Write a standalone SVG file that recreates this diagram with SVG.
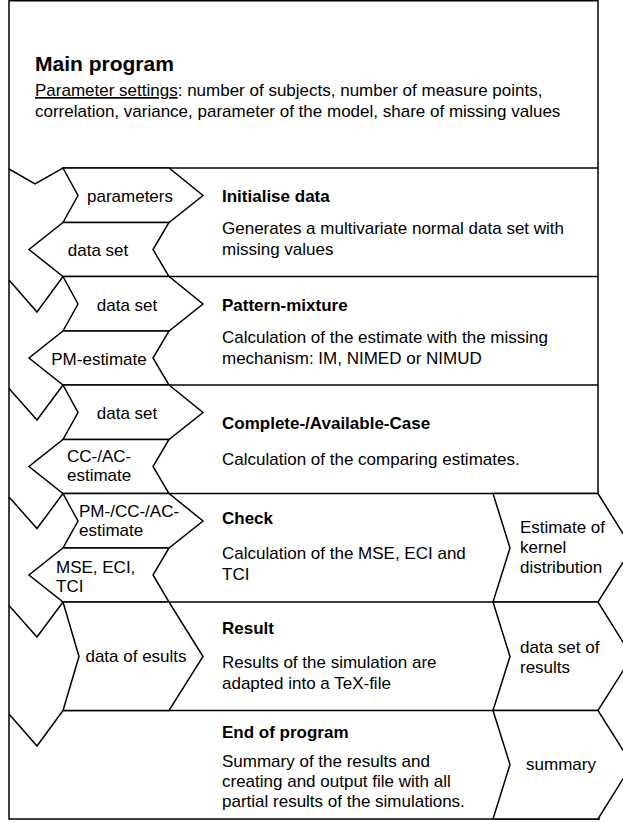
<svg xmlns="http://www.w3.org/2000/svg" width="623" height="822" viewBox="0 0 623 822">
<style>
  .ln { fill: none; stroke: #000; stroke-width: 1.5; stroke-linejoin: miter; }
  .fl { fill: #fff; stroke: #000; stroke-width: 1.5; stroke-linejoin: miter; }
  text { font-family: "Liberation Sans", Arial, sans-serif; font-size: 17px; fill: #000; }
  .t { font-weight: bold; }
  .h { font-weight: bold; font-size: 21px; }
  .m { text-anchor: middle; }
</style>
<rect x="0" y="0" width="623" height="822" fill="#fff"/>

<g id="frame">
  <polyline class="ln" points="598,493.5 598,0.75 9,0.75 9,819 600,819"/>
</g>

<g id="main-program">
  <text class="h" x="35" y="71">Main program</text>
  <text x="35" y="96"><tspan text-decoration="underline">Parameter settings</tspan>: number of subjects, number of measure points,</text>
  <text x="35" y="117">correlation, variance, parameter of the model, share of missing values</text>
</g>

<g id="row-lines">
  <polyline class="ln" points="9,169 35,184 63,168 598,168"/>
  <polyline class="ln" points="9,280 37,312 63,276.5 598,276.5"/>
  <polyline class="ln" points="9,388.5 37,420 63,385 598,385"/>
  <polyline class="ln" points="9,497 37,528.5 63,493.5 598,493.5"/>
  <polyline class="ln" points="9,605.5 37,637 63,602 598,602"/>
  <polyline class="ln" points="9,714 37,746 63,710.5 598,710.5"/>
</g>

<g id="initialise-data">
  <g id="in-parameters">
    <polygon class="fl" points="63,168 169,168 203,195.5 169,222.5 63,222.5 78,195.5"/>
    <text class="m" x="130" y="202">parameters</text>
  </g>
  <g id="out-data-set-1">
    <polygon class="fl" points="63,222.5 169,222.5 153,249.5 169,276.5 63,276.5 29,249.5"/>
    <text class="m" x="98" y="256">data set</text>
  </g>
  <text class="t" x="222" y="202">Initialise data</text>
  <text x="222" y="234">Generates a multivariate normal data set with</text>
  <text x="222" y="255">missing values</text>
</g>

<g id="pattern-mixture">
  <g id="in-data-set-2">
    <polygon class="fl" points="63,276.5 169,276.5 203,304 169,331 63,331 78,304"/>
    <text class="m" x="127" y="310.5">data set</text>
  </g>
  <g id="out-pm-estimate">
    <polygon class="fl" points="63,331 169,331 153,358 169,385 63,385 29,358"/>
    <text class="m" x="99" y="364.5">PM-estimate</text>
  </g>
  <text class="t" x="222" y="310.5">Pattern-mixture</text>
  <text x="222" y="343">Calculation of the estimate with the missing</text>
  <text x="222" y="364">mechanism: IM, NIMED or NIMUD</text>
</g>

<g id="complete-available-case">
  <g id="in-data-set-3">
    <polygon class="fl" points="63,385 169,385 203,412.5 169,439.5 63,439.5 78,412.5"/>
    <text class="m" x="127" y="419">data set</text>
  </g>
  <g id="out-cc-ac-estimate">
    <polygon class="fl" points="63,439.5 169,439.5 153,466.5 169,493.5 63,493.5 29,466.5"/>
    <text x="67" y="462">CC-/AC-</text>
    <text x="67" y="481">estimate</text>
  </g>
  <text class="t" x="222" y="429">Complete-/Available-Case</text>
  <text x="222" y="465">Calculation of the comparing estimates.</text>
</g>

<g id="check">
  <g id="in-pm-cc-ac-estimate">
    <polygon class="fl" points="63,493.5 169,493.5 203,521 169,548 63,548 78,521"/>
    <text x="79" y="517">PM-/CC-/AC-</text>
    <text x="79" y="536">estimate</text>
  </g>
  <g id="out-mse-eci-tci">
    <polygon class="fl" points="63,548 169,548 153,575 169,602 63,602 29,575"/>
    <text x="56" y="573">MSE, ECI,</text>
    <text x="56" y="592">TCI</text>
  </g>
  <g id="out-kernel-estimate">
    <polygon class="fl" points="493,493.5 598,493.5 632,548 598,602 493,602 510,548"/>
    <text x="520" y="533">Estimate of</text>
    <text x="520" y="553">kernel</text>
    <text x="520" y="573">distribution</text>
  </g>
  <text class="t" x="222" y="524">Check</text>
  <text x="222" y="559">Calculation of the MSE, ECI and</text>
  <text x="222" y="580">TCI</text>
</g>

<g id="result">
  <g id="in-data-of-results">
    <polygon class="fl" points="63,602 169,602 203,656.5 169,710.5 63,710.5 79,656.5"/>
    <text class="m" x="136" y="662">data of esults</text>
  </g>
  <g id="out-data-set-of-results">
    <polygon class="fl" points="493,602 598,602 632,656.5 598,710.5 493,710.5 510,656.5"/>
    <text x="520" y="653">data set of</text>
    <text x="520" y="673">results</text>
  </g>
  <text class="t" x="222" y="634">Result</text>
  <text x="222" y="668">Results of the simulation are</text>
  <text x="222" y="689">adapted into a TeX-file</text>
</g>

<g id="end-of-program">
  <g id="out-summary">
    <polygon class="fl" points="493,710.5 598,710.5 632,764.5 598,819 493,819 510,764.5"/>
    <text class="m" x="561" y="770">summary</text>
  </g>
  <text class="t" x="222" y="738">End of program</text>
  <text x="222" y="767">Summary of the results and</text>
  <text x="222" y="787">creating and output file with all</text>
  <text x="222" y="807">partial results of the simulations.</text>
</g>

<g id="connectors"></g>
</svg>
